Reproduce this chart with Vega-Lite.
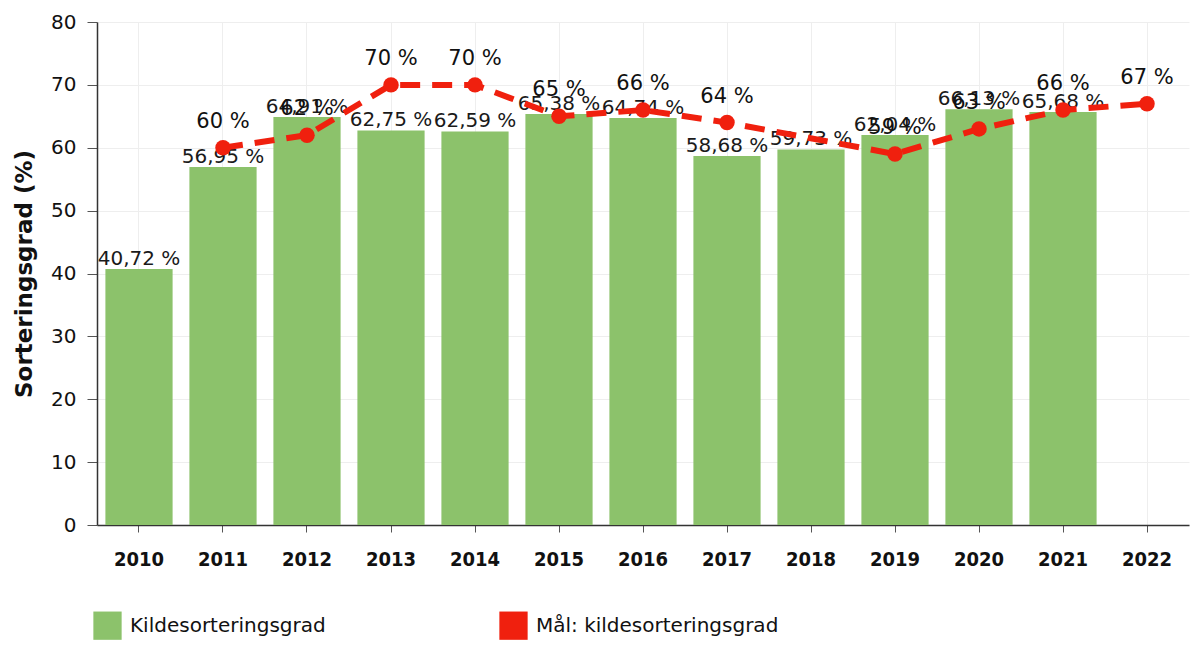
{
  "$schema": "https://vega.github.io/schema/vega-lite/v6.json",
  "width": 1092,
  "height": 503,
  "autosize": "none",
  "padding": {"left": 97, "top": 22, "right": 5, "bottom": 120},
  "background": "white",
  "data": {
    "values": [
      {"year": "2010", "grad": 40.72, "gradLabel": "40,72 %", "maal": null, "maalLabel": null},
      {"year": "2011", "grad": 56.95, "gradLabel": "56,95 %", "maal": 60, "maalLabel": "60 %"},
      {"year": "2012", "grad": 64.91, "gradLabel": "64,91 %", "maal": 62, "maalLabel": "62 %"},
      {"year": "2013", "grad": 62.75, "gradLabel": "62,75 %", "maal": 70, "maalLabel": "70 %"},
      {"year": "2014", "grad": 62.59, "gradLabel": "62,59 %", "maal": 70, "maalLabel": "70 %"},
      {"year": "2015", "grad": 65.38, "gradLabel": "65,38 %", "maal": 65, "maalLabel": "65 %"},
      {"year": "2016", "grad": 64.74, "gradLabel": "64,74 %", "maal": 66, "maalLabel": "66 %"},
      {"year": "2017", "grad": 58.68, "gradLabel": "58,68 %", "maal": 64, "maalLabel": "64 %"},
      {"year": "2018", "grad": 59.73, "gradLabel": "59,73 %", "maal": null, "maalLabel": null},
      {"year": "2019", "grad": 62.04, "gradLabel": "62,04 %", "maal": 59, "maalLabel": "59 %"},
      {"year": "2020", "grad": 66.13, "gradLabel": "66,13 %", "maal": 63, "maalLabel": "63 %"},
      {"year": "2021", "grad": 65.68, "gradLabel": "65,68 %", "maal": 66, "maalLabel": "66 %"},
      {"year": "2022", "grad": null, "gradLabel": null, "maal": 67, "maalLabel": "67 %"}
    ]
  },
  "encoding": {
    "x": {
      "field": "year",
      "type": "ordinal",
      "scale": {"paddingInner": 0.2, "paddingOuter": 0.1},
      "axis": {
        "title": null,
        "labelAngle": 0,
        "labelFont": "DejaVu Sans Condensed, DejaVu Sans",
        "labelFontWeight": "bold",
        "labelFontSize": 20,
        "labelColor": "#111",
        "labelPadding": 17,
        "tickSize": 7,
        "tickColor": "#555",
        "domainColor": "#333",
        "domainWidth": 1.5,
        "grid": true,
        "gridColor": "#eeeeee",
        "gridWidth": 1
      }
    }
  },
  "layer": [
    {
      "mark": {"type": "bar"},
      "encoding": {
        "y": {
          "field": "grad",
          "type": "quantitative",
          "scale": {"domain": [0, 80]},
          "axis": {
            "title": "Sorteringsgrad (%)",
            "titleFont": "DejaVu Sans",
            "titleFontSize": 23,
            "titleFontWeight": "bold",
            "titleColor": "#111",
            "titlePadding": 14,
            "values": [0, 10, 20, 30, 40, 50, 60, 70, 80],
            "labelFont": "DejaVu Sans",
            "labelFontSize": 20,
            "labelColor": "#111",
            "labelPadding": 11,
            "tickSize": 10,
            "tickColor": "#555",
            "domainColor": "#333",
            "domainWidth": 1.5,
            "grid": true,
            "gridColor": "#eeeeee"
          }
        },
        "color": {
          "datum": "Kildesorteringsgrad",
          "scale": {
            "domain": ["Kildesorteringsgrad", "Mål: kildesorteringsgrad"],
            "range": ["#8cc26b", "#f0200e"]
          },
          "legend": {
            "title": null,
            "orient": "none",
            "legendX": -4,
            "legendY": 589,
            "direction": "horizontal",
            "symbolType": "square",
            "symbolSize": 800,
            "symbolStrokeWidth": 0,
            "symbolOpacity": 1,
            "labelFont": "DejaVu Sans",
            "labelFontSize": 20,
            "labelColor": "#111",
            "labelOffset": 8,
            "labelLimit": 400,
            "columnPadding": 173
          }
        }
      }
    },
    {
      "mark": {"type": "text", "baseline": "alphabetic", "dy": -4, "font": "DejaVu Sans", "fontSize": 20, "color": "#1a1a1a"},
      "encoding": {
        "y": {"field": "grad", "type": "quantitative"},
        "text": {"field": "gradLabel"}
      }
    },
    {
      "transform": [{"filter": "datum.maal != null"}],
      "mark": {"type": "line", "strokeDash": [20, 12], "strokeWidth": 6},
      "encoding": {
        "y": {"field": "maal", "type": "quantitative"},
        "color": {"datum": "Mål: kildesorteringsgrad", "legend": null}
      }
    },
    {
      "transform": [{"filter": "datum.maal != null"}],
      "mark": {"type": "point", "filled": true, "size": 240, "opacity": 1, "shape": "circle"},
      "encoding": {
        "y": {"field": "maal", "type": "quantitative"},
        "color": {"datum": "Mål: kildesorteringsgrad", "legend": null}
      }
    },
    {
      "transform": [{"filter": "datum.maal != null"}],
      "mark": {"type": "text", "baseline": "alphabetic", "dy": -20, "font": "DejaVu Sans", "fontSize": 21, "color": "#111"},
      "encoding": {
        "y": {"field": "maal", "type": "quantitative"},
        "text": {"field": "maalLabel"}
      }
    }
  ],
  "config": {
    "view": {"stroke": null}
  }
}
